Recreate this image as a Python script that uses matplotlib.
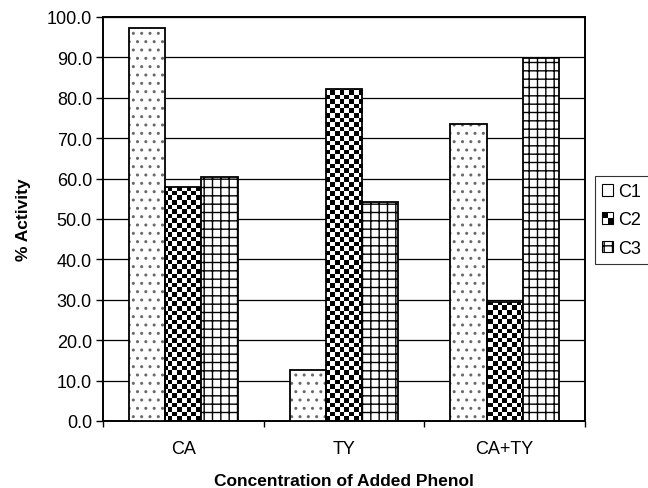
import numpy as np
import matplotlib
matplotlib.use('Agg')
import matplotlib.pyplot as plt
from matplotlib.patches import Rectangle
from matplotlib.legend_handler import HandlerBase

categories = ['CA', 'TY', 'CA+TY']
series = ['C1', 'C2', 'C3']
c1 = [97.4, 12.7, 73.4]
c2 = [58.0, 82.3, 29.5]
c3 = [60.3, 54.2, 89.8]
yticks = np.arange(0, 101, 10)

plt.rcParams['font.family'] = ['Liberation Sans', 'DejaVu Sans']
plt.rcParams['hatch.linewidth'] = 1.0

fig = plt.figure(figsize=(6.48, 4.89), dpi=100)
ax = fig.add_axes([103/648, 1-422/489, 482/648, 404/489])
x = np.arange(len(categories))
w = 0.225

# C1: light dotted fill (grey dots) with black outline on top
ax.bar(x - w, c1, w, facecolor='white', edgecolor='#6a6a6a', hatch='..', linewidth=0, zorder=2.8)
b1 = ax.bar(x - w, c1, w, facecolor='none', edgecolor='black', linewidth=1.3, zorder=3)
b2 = ax.bar(x, c2, w, facecolor='none', edgecolor='black', linewidth=1.3, zorder=3)
b3 = ax.bar(x + w, c3, w, facecolor='white', edgecolor='black', hatch='++', linewidth=1.3, zorder=3)

ax.set_xlim(-0.5, 2.5)
ax.set_ylim(0, 100)

# checkerboard fill for C2
ncols, nrows = 104, 88
ii, jj = np.meshgrid(np.arange(ncols), np.arange(nrows))
board = ((ii + jj) % 2).astype(float)
for p in b2.patches:
    im = ax.imshow(board, cmap='gray', vmin=0, vmax=1, extent=(-0.5, 2.5, 0, 100),
                   aspect='auto', interpolation='nearest', zorder=2.5, origin='lower')
    im.set_clip_path(p)
ax.set_xlim(-0.5, 2.5)
ax.set_ylim(0, 100)

ax.set_axisbelow(True)
ax.yaxis.grid(True, color='black', linewidth=0.9)
for s in ax.spines.values():
    s.set_linewidth(1.4)
    s.set_color('black')

ax.set_yticks(yticks)
ax.set_yticklabels([f'{v:.1f}' for v in yticks], fontsize=13)
ax.tick_params(axis='y', direction='out', length=5, width=1, pad=3)

ax.set_xticks([-0.5, 0.5, 1.5, 2.5])
ax.set_xticklabels([])
ax.tick_params(axis='x', which='major', direction='out', length=4, width=1)
ax.set_xticks(x, minor=True)
ax.set_xticklabels(categories, minor=True, fontsize=13)
ax.tick_params(axis='x', which='minor', length=0, pad=14)

ax.set_ylabel('% Activity', fontsize=12.5, fontweight='bold')
ax.set_xlabel('Concentration of Added Phenol', fontsize=12.5, fontweight='bold')
ax.yaxis.set_label_coords(-0.15, 0.5)
ax.xaxis.set_label_coords(0.5, -0.128)


class CheckerHandler(HandlerBase):
    def create_artists(self, legend, orig_handle, xdescent, ydescent, width, height, fontsize, trans):
        arts = []
        base = Rectangle((-xdescent, -ydescent), width, height, facecolor='white',
                         edgecolor='black', linewidth=0.8, transform=trans)
        arts.append(base)
        hw, hh = width / 2, height / 2
        arts.append(Rectangle((-xdescent, -ydescent + hh), hw, hh, facecolor='black',
                              edgecolor='none', transform=trans))
        arts.append(Rectangle((-xdescent + hw, -ydescent), hw, hh, facecolor='black',
                              edgecolor='none', transform=trans))
        return arts


h1 = Rectangle((0, 0), 1, 1, facecolor='white', edgecolor='black', linewidth=0.8)
h2 = Rectangle((0, 0), 1, 1, facecolor='white', edgecolor='black', linewidth=0.8)
h3 = Rectangle((0, 0), 1, 1, facecolor='white', edgecolor='black', hatch='++', linewidth=0.8)
leg = fig.legend([h1, h2, h3], series, loc='upper left',
                 bbox_to_anchor=(595/648, 1-177/489), bbox_transform=fig.transFigure,
                 fontsize=13, frameon=True, fancybox=False, borderaxespad=0,
                 handlelength=0.6, handleheight=0.6, handletextpad=0.3,
                 labelspacing=0.62, borderpad=0.4,
                 handler_map={h2: CheckerHandler()})
leg.get_frame().set_edgecolor('black')
leg.get_frame().set_linewidth(0.8)

fig.savefig('out.png', dpi=100)
